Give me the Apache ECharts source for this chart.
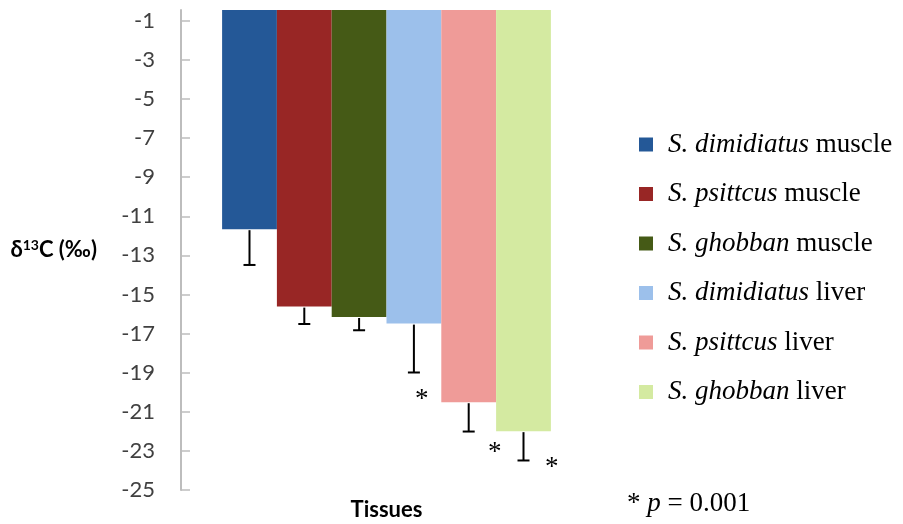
<!DOCTYPE html>
<html>
<head>
<meta charset="utf-8">
<script src="https://cdn.jsdelivr.net/npm/echarts@6/dist/echarts.min.js"></script>
<style>
  html, body { margin: 0; padding: 0; background: #fff; }
  #chart { width: 903px; height: 524px; }
</style>
</head>
<body>
<div id="chart"></div>
<script>
// δ13C of muscle and liver tissue in three parrotfish species (mean and SD)
const categories = ['Tissues'];
const seriesNames = [
  ['S. dimidiatus', 'muscle'],
  ['S. psittcus', 'muscle'],
  ['S. ghobban', 'muscle'],
  ['S. dimidiatus', 'liver'],
  ['S. psittcus', 'liver'],
  ['S. ghobban', 'liver']
];
const means = [-11.66, -15.62, -16.15, -16.49, -20.51, -21.99];
const lowerEnds = [-13.49, -16.51, -16.83, -18.99, -22.01, -23.49];
const yTicks = [-25, -23, -21, -19, -17, -15, -13, -11, -9, -7, -5, -3, -1];
const colors = ['#245897', '#982625', '#455A16', '#9CC0EB', '#EF9B98', '#D4EAA1'];

const chart = echarts.init(document.getElementById('chart'));

const barCategoryGap = 0.2;
const bars = seriesNames.map((n, i) => ({
  name: n[0] + ' ' + n[1],
  type: 'bar',
  data: [means[i]],
  barGap: '0%',
  barCategoryGap: (barCategoryGap * 100) + '%',
  itemStyle: { color: colors[i] },
  clip: true,
  z: 2
}));

const errorData = means.map((m, i) => [0, m, lowerEnds[i], i]);

const errorSeries = {
  type: 'custom',
  name: 'sd',
  data: errorData,
  encode: { x: 0, y: [1, 2] },
  z: 3,
  silent: true,
  renderItem: function (params, api) {
    const idx = api.value(3);
    const top = api.coord([api.value(0), api.value(1)]);
    const bot = api.coord([api.value(0), api.value(2)]);
    const band = api.size([1, 0])[0];
    const barW = band * (1 - barCategoryGap) / seriesNames.length;
    const x = top[0] + (idx - (seriesNames.length - 1) / 2) * barW;
    const cap = 6;
    const style = { stroke: '#000', lineWidth: 2 };
    return {
      type: 'group',
      children: [
        { type: 'line', shape: { x1: x, y1: top[1] + 1, x2: x, y2: bot[1] }, style: style },
        { type: 'line', shape: { x1: x - cap, y1: bot[1], x2: x + cap, y2: bot[1] }, style: style }
      ]
    };
  }
};

const serif = '"Liberation Serif", "Times New Roman", serif';
const sans = 'Lato, "Open Sans", sans-serif';

chart.setOption({
  animation: false,
  backgroundColor: '#fff',
  grid: { left: 181, right: 311, top: 10, bottom: 34, containLabel: false },
  legend: {
    orient: 'vertical',
    left: 634,
    top: 126,
    itemWidth: 14,
    itemHeight: 14,
    itemGap: 22.5,
    icon: 'rect',
    data: bars.map(b => b.name),
    formatter: function (name) {
      const i = bars.findIndex(b => b.name === name);
      return '{i|' + seriesNames[i][0] + '} {n|' + seriesNames[i][1] + '}';
    },
    textStyle: {
      fontFamily: serif,
      fontSize: 27,
      color: '#000',
      padding: [0, 0, 0, 10],
      rich: {
        i: { fontFamily: serif, fontSize: 27, fontStyle: 'italic', color: '#000' },
        n: { fontFamily: serif, fontSize: 27, color: '#000' }
      }
    }
  },
  xAxis: {
    type: 'category',
    data: categories,
    axisLine: { show: false },
    axisTick: { show: false },
    axisLabel: {
      margin: 9,
      fontFamily: sans,
      fontWeight: 'bold',
      fontSize: 22,
      color: '#000'
    }
  },
  yAxis: {
    type: 'value',
    min: -25,
    max: -0.45,
    splitLine: { show: false },
    axisLine: { show: true, lineStyle: { color: '#BDBDBD', width: 2 } },
    axisTick: {
      show: true, inside: true, length: 9,
      customValues: yTicks,
      lineStyle: { color: '#BDBDBD', width: 1.5 }
    },
    axisLabel: {
      customValues: yTicks,
      margin: 26,
      fontFamily: sans,
      fontSize: 22,
      color: '#404040'
    },
    name: '{b|δ}{s|13}{b|C (‰)}',
    nameLocation: 'middle',
    nameRotate: 0,
    nameGap: 84,
    nameTextStyle: {
      rich: {
        b: { fontFamily: sans, fontWeight: 'bold', fontSize: 22, color: '#000' },
        s: { fontFamily: sans, fontWeight: 'bold', fontSize: 14, color: '#000', verticalAlign: 'top', padding: [0, 0, 9, 0] }
      }
    }
  },
  graphic: [
    { type: 'text', left: 415, top: 386, style: { text: '*', font: '27px ' + serif, fill: '#000' } },
    { type: 'text', left: 488, top: 439, style: { text: '*', font: '27px ' + serif, fill: '#000' } },
    { type: 'text', left: 545, top: 454, style: { text: '*', font: '27px ' + serif, fill: '#000' } },
    {
      type: 'text', left: 627, top: 490,
      style: {
        text: '{n|* }{i|p}{n| = 0.001}',
        rich: {
          n: { fontFamily: serif, fontSize: 27, fill: '#000' },
          i: { fontFamily: serif, fontSize: 27, fontStyle: 'italic', fill: '#000' }
        }
      }
    }
  ],
  series: bars.concat([errorSeries])
});
</script>
</body>
</html>
